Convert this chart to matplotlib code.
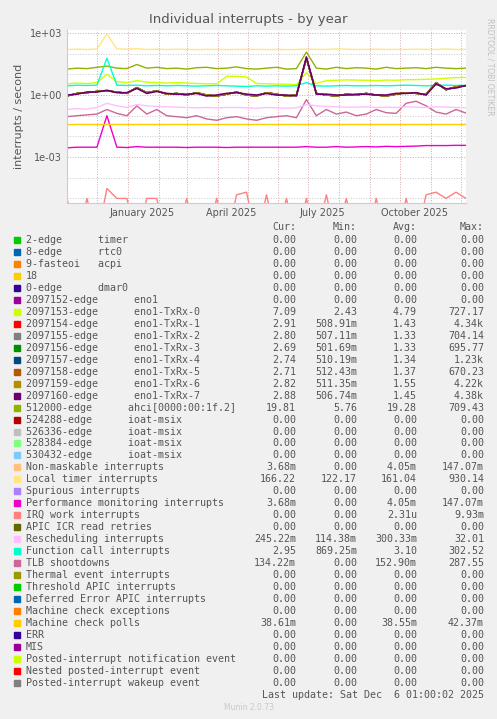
import numpy as np
import matplotlib
matplotlib.use('Agg')
import matplotlib.pyplot as plt
import matplotlib.dates as mdates
import datetime as dt

# ---- data (10-day samples from 2024-11-01 to 2025-12-06) ----
start = dt.datetime(2024, 11, 1)
local_timer = [160,165,160,170,900,170,165,175,160,165,160,165,160,158,162,160,158,160,160,162,158,
               160,158,160,165,162,160,170,165,160,162,165,160,162,160,165,162,160,168,160,162]
ahci = [18,20,19,22,25,20,19,30,20,22,19,20,18,21,22,19,20,23,19,18,20,22,18,19,120,20,18,22,19,21,
        20,18,22,19,20,21,19,22,20,19,20]
txrx0 = [3.5,3.8,3.6,4,10,4.5,4,5,4.2,4,3.8,4,3.8,3.6,3.5,3.5,8,8,7.5,3.6,3.5,3.4,3.3,3.2,12,3.6,5,
         5.2,5.4,5.3,5.2,5,5.3,5.2,5.5,5.6,5.8,6,6.5,7,7.1]
func_call = [2.8,3,2.9,3,60,3,2.9,3,2.8,2.9,2.8,2.9,2.8,2.7,2.8,2.9,2.8,2.7,2.6,2.8,2.7,2.8,2.7,2.8,
             4,2.8,2.7,2.8,2.9,2.8,2.8,2.9,2.8,2.9,3,2.9,2.8,2.9,3,2.9,2.95]
eno_rx = [0.9,1.2,1.3,1.5,1.6,1.4,1.2,2.3,1.3,1.6,1.1,1.2,1.0,1.3,1.0,0.9,1.1,1.4,1.0,0.9,1.3,1.1,
          0.9,1.0,60,1.2,1.0,0.9,1.1,1.0,1.2,1.0,0.9,1.1,1.3,1.2,1.1,4,1.8,2.5,2.8]
eno_rx7 = [1.0,1.1,1.4,1.4,1.7,1.3,1.3,2.1,1.2,1.5,1.2,1.1,1.1,1.2,0.9,1.0,1.2,1.3,1.1,1.0,1.2,1.0,
           1.0,0.9,70,1.1,1.1,1.0,1.0,1.1,1.1,1.0,1.0,1.2,1.2,1.3,1.0,3.5,2.0,2.2,2.9]
resched = [0.2,0.22,0.21,0.25,0.4,0.3,0.25,0.35,0.3,0.28,0.27,0.26,0.25,0.24,0.25,0.24,0.25,0.25,
           0.24,0.23,0.25,0.24,0.23,0.24,0.35,0.3,0.28,0.27,0.26,0.26,0.27,0.25,0.26,0.25,0.27,0.26,
           0.25,0.27,0.26,0.25,0.245]
tlb = [0.09,0.1,0.11,0.12,0.2,0.13,0.1,0.3,0.12,0.2,0.1,0.09,0.08,0.1,0.07,0.06,0.08,0.09,0.07,0.06,
       0.08,0.09,0.1,0.08,0.6,0.1,0.2,0.12,0.15,0.1,0.12,0.2,0.14,0.13,0.4,0.5,0.3,0.15,0.12,0.2,0.134]
mc_polls = [0.0386] * 41
perf = [0.0028,0.003,0.003,0.003,0.1,0.003,0.0029,0.0032,0.003,0.003,0.003,0.003,0.0029,0.003,0.003,
        0.003,0.0029,0.003,0.003,0.003,0.003,0.003,0.003,0.003,0.0032,0.003,0.003,0.0032,0.003,0.0031,
        0.0032,0.0031,0.0033,0.0032,0.0033,0.0034,0.0036,0.0036,0.0036,0.0037,0.00368]
irq_work = [1e-5,0,1e-5,0,3e-5,1e-5,1e-5,0,1e-5,1e-5,0,0,1e-5,0,0,1e-5,0,1.5e-5,2e-5,0,1.5e-5,0,1e-5,
            0,1e-5,0,1.5e-5,0,1e-5,0,0,1e-5,0,0,1e-5,0,1.5e-5,2e-5,1e-5,2e-5,1e-5]

names = ["2-edge      timer", "8-edge      rtc0", "9-fasteoi   acpi", "18", "0-edge      dmar0",
         "2097152-edge      eno1", "2097153-edge      eno1-TxRx-0", "2097154-edge      eno1-TxRx-1",
         "2097155-edge      eno1-TxRx-2", "2097156-edge      eno1-TxRx-3", "2097157-edge      eno1-TxRx-4",
         "2097158-edge      eno1-TxRx-5", "2097159-edge      eno1-TxRx-6", "2097160-edge      eno1-TxRx-7",
         "512000-edge      ahci[0000:00:1f.2]", "524288-edge      ioat-msix", "526336-edge      ioat-msix",
         "528384-edge      ioat-msix", "530432-edge      ioat-msix", "Non-maskable interrupts",
         "Local timer interrupts", "Spurious interrupts", "Performance monitoring interrupts",
         "IRQ work interrupts", "APIC ICR read retries", "Rescheduling interrupts",
         "Function call interrupts", "TLB shootdowns", "Thermal event interrupts",
         "Threshold APIC interrupts", "Deferred Error APIC interrupts", "Machine check exceptions",
         "Machine check polls", "ERR", "MIS", "Posted-interrupt notification event",
         "Nested posted-interrupt event", "Posted-interrupt wakeup event"]
colors = ["#00CC00", "#0066B3", "#FF8000", "#FFCC00", "#330099", "#990099", "#CCFF00", "#FF0000",
          "#808080", "#008F00", "#00487D", "#B35A00", "#B38F00", "#6B006B", "#8FB300", "#B30000",
          "#BEBEBE", "#80FF80", "#80C9FF", "#FFC080", "#FFE680", "#AA80FF", "#EE00CC", "#FF8080",
          "#666600", "#FFBFFF", "#00FFCC", "#CC6699", "#999900", "#00CC00", "#0066B3", "#FF8000",
          "#FFCC00", "#330099", "#990099", "#CCFF00", "#FF0000", "#808080"]
cur = ["0.00"]*5 + ["0.00","7.09","2.91","2.80","2.69","2.74","2.71","2.82","2.88","19.81"] + ["0.00"]*4 + \
      ["3.68m","166.22","0.00","3.68m","0.00","0.00","245.22m","2.95","134.22m","0.00","0.00","0.00","0.00",
       "38.61m","0.00","0.00","0.00","0.00","0.00"]
mins = ["0.00"]*5 + ["0.00","2.43","508.91m","507.11m","501.69m","510.19m","512.43m","511.35m","506.74m","5.76"] + \
       ["0.00"]*4 + ["0.00","122.17","0.00","0.00","0.00","0.00","114.38m","869.25m","0.00","0.00","0.00","0.00",
                     "0.00","0.00","0.00","0.00","0.00","0.00","0.00"]
avgs = ["0.00"]*5 + ["0.00","4.79","1.43","1.33","1.33","1.34","1.37","1.55","1.45","19.28"] + ["0.00"]*4 + \
       ["4.05m","161.04","0.00","4.05m","2.31u","0.00","300.33m","3.10","152.90m","0.00","0.00","0.00","0.00",
        "38.55m","0.00","0.00","0.00","0.00","0.00"]
maxs = ["0.00"]*5 + ["0.00","727.17","4.34k","704.14","695.77","1.23k","670.23","4.22k","4.38k","709.43"] + \
       ["0.00"]*4 + ["147.07m","930.14","0.00","147.07m","9.93m","0.00","32.01","302.52","287.55","0.00","0.00",
                     "0.00","0.00","42.37m","0.00","0.00","0.00","0.00","0.00"]

dates = [start + dt.timedelta(days=10 * i) for i in range(41)]

bg = "#F0F0F0"
fig = plt.figure(figsize=(4.97, 7.19), dpi=100, facecolor=bg)
ax = fig.add_axes([67/497, 1 - 203/719, 399/497, 173/719], facecolor="white")

def line(vals, c, lw=1.0):
    v = np.array(vals, dtype=float)
    v[v <= 0] = 1e-7
    ax.plot(dates, v, color=c, lw=lw)

line(irq_work, colors[23])
line(perf, colors[22])
line(mc_polls, colors[32])
line(tlb, colors[27])
line(resched, colors[25])
line(local_timer, colors[20])
line(ahci, colors[14])
line(txrx0, colors[6])
line(func_call, colors[26])
for k in range(7, 13):
    line(eno_rx, colors[k])
line(eno_rx7, colors[13], lw=1.2)

ax.set_yscale("log")
ax.set_ylim(6e-6, 1.4e3)
ax.set_xlim(dates[0], dates[-1])
ax.set_yticks([1e-3, 1, 1e3])
ax.set_yticklabels(["1e-03", "1e+00", "1e+03"])
ax.set_yticks([10.0**e for e in range(-5, 4)], minor=True)
ax.yaxis.set_minor_formatter(matplotlib.ticker.NullFormatter())
ax.xaxis.set_major_locator(mdates.MonthLocator(bymonth=[1, 4, 7, 10], bymonthday=15))
ax.xaxis.set_major_formatter(mdates.DateFormatter("%B %Y"))
ax.xaxis.set_minor_locator(mdates.MonthLocator())
ax.tick_params(axis="both", which="both", length=0, labelsize=7, colors="#555555")
ax.grid(False)
ax.grid(True, which="minor", axis="x", color="#E0A0A0", ls=":", lw=0.7)
ax.grid(True, which="minor", axis="y", color="#C8C8C8", ls=":", lw=0.7)
ax.grid(True, which="major", axis="y", color="#E0A0A0", ls=":", lw=0.7)
for s in ["top", "right"]:
    ax.spines[s].set_visible(False)
for s in ["left", "bottom"]:
    ax.spines[s].set_color("#C8C8F0")
ax.set_ylabel("interrupts / second", fontsize=8, color="#555555")
fig.text(0.5, 1 - 20/719, "Individual interrupts - by year", ha="center", va="center",
         fontsize=9.5, color="#555555")
fig.text(490/497, 1 - 18/719, "RRDTOOL / TOBI OETIKER", rotation=270, ha="center", va="top",
         fontsize=5.5, color="#C0C0C0")

mono = dict(family="DejaVu Sans Mono", fontsize=7.2, color="#555555", va="center")
cols = [296, 357, 417, 484]
for x, h in zip(cols, ["Cur:", "Min:", "Avg:", "Max:"]):
    fig.text(x/497, 1 - 227/719, h, ha="right", **mono)
for i, nm in enumerate(names):
    y = 1 - (240 + 11.97 * i)/719
    fig.patches.append(plt.Rectangle((14/497, y - 3/719), 6/497, 6/719, transform=fig.transFigure,
                                     color=colors[i]))
    fig.text(26/497, y, nm, ha="left", **mono)
    for x, v in zip(cols, [cur[i], mins[i], avgs[i], maxs[i]]):
        fig.text(x/497, y, v, ha="right", **mono)
fig.text(484/497, 1 - 695/719, "Last update: Sat Dec  6 01:00:02 2025", ha="right", **mono)
fig.text(0.5, 1 - 708/719, "Munin 2.0.73", ha="center", va="center", fontsize=5.5, color="#C8C8C8")

fig.savefig("out.png", dpi=100, facecolor=bg)
